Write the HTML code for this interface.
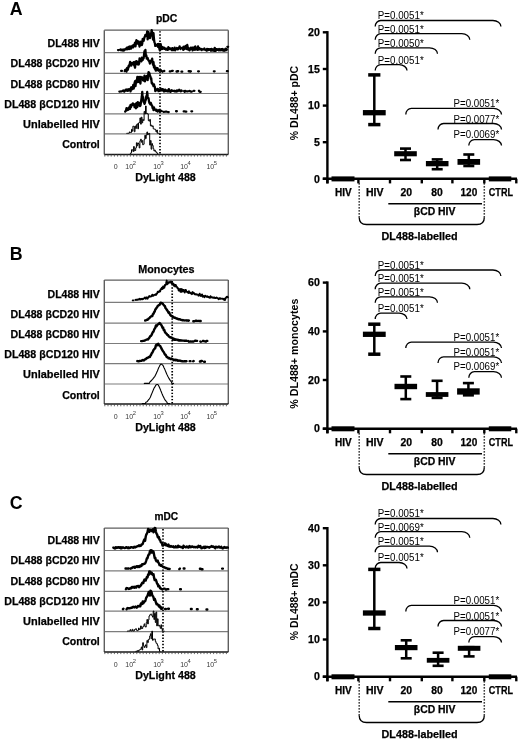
<!DOCTYPE html>
<html><head><meta charset="utf-8"><style>
html,body{margin:0;padding:0;background:#fff;}
svg{display:block;font-family:"Liberation Sans", sans-serif;filter:blur(0.35px);}
</style></head><body>
<svg width="520" height="741" viewBox="0 0 520 741">
<rect width="520" height="741" fill="#fff"/>
<text x="9.80" y="15.10" font-size="17.8" font-weight="bold" >A</text>
<text x="156.00" y="22.20" font-size="10.8" font-weight="bold" stroke="#000" stroke-width="0.25" textLength="21.40" lengthAdjust="spacingAndGlyphs" >pDC</text>
<text x="47.50" y="47.00" font-size="11.0" font-weight="bold" stroke="#000" stroke-width="0.25" textLength="52.30" lengthAdjust="spacingAndGlyphs" >DL488 HIV</text>
<text x="10.60" y="67.30" font-size="11.0" font-weight="bold" stroke="#000" stroke-width="0.25" textLength="89.20" lengthAdjust="spacingAndGlyphs" >DL488 βCD20 HIV</text>
<text x="10.50" y="88.20" font-size="11.0" font-weight="bold" stroke="#000" stroke-width="0.25" textLength="89.30" lengthAdjust="spacingAndGlyphs" >DL488 βCD80 HIV</text>
<text x="4.20" y="107.90" font-size="11.0" font-weight="bold" stroke="#000" stroke-width="0.25" textLength="95.60" lengthAdjust="spacingAndGlyphs" >DL488 βCD120 HIV</text>
<text x="23.10" y="128.20" font-size="11.0" font-weight="bold" stroke="#000" stroke-width="0.25" textLength="76.70" lengthAdjust="spacingAndGlyphs" >Unlabelled HIV</text>
<text x="62.20" y="148.00" font-size="11.0" font-weight="bold" stroke="#000" stroke-width="0.25" textLength="37.60" lengthAdjust="spacingAndGlyphs" >Control</text>
<line x1="104.30" y1="30.20" x2="228.30" y2="30.20" stroke="#5e5e5e" stroke-width="1.3" />
<line x1="104.30" y1="52.60" x2="228.30" y2="52.60" stroke="#7c7c7c" stroke-width="1.2" />
<line x1="104.30" y1="73.30" x2="228.30" y2="73.30" stroke="#7c7c7c" stroke-width="1.2" />
<line x1="104.30" y1="93.50" x2="228.30" y2="93.50" stroke="#7c7c7c" stroke-width="1.2" />
<line x1="104.30" y1="113.90" x2="228.30" y2="113.90" stroke="#7c7c7c" stroke-width="1.2" />
<line x1="104.30" y1="133.90" x2="228.30" y2="133.90" stroke="#7c7c7c" stroke-width="1.2" />
<line x1="104.30" y1="30.20" x2="104.30" y2="154.40" stroke="#5e5e5e" stroke-width="1.4" />
<line x1="228.30" y1="30.20" x2="228.30" y2="154.40" stroke="#5e5e5e" stroke-width="1.4" />
<line x1="104.30" y1="154.40" x2="228.30" y2="154.40" stroke="#1a1a1a" stroke-width="1.5" />
<path d="M118.00,50.06 L118.80,50.06M120.20,49.59 L120.65,49.49 L121.10,50.32M122.00,49.63 L122.45,49.60 L122.90,50.67 L123.35,50.13 L123.80,49.52 L124.25,50.24 L124.70,49.39 L125.15,49.11 L125.60,49.01 L126.05,49.40 L126.50,48.12 L126.95,47.64 L127.40,48.08 L127.85,49.20 L128.30,47.29 L128.75,48.56 L129.20,46.77 L129.65,48.98 L130.10,46.35 L130.55,47.25 L131.00,48.61 L131.45,47.11 L131.90,46.33 L132.35,45.75 L132.80,47.33 L133.25,47.28 L133.70,45.02 L134.15,45.73 L134.60,44.10 L135.05,42.69 L135.50,46.41 L135.95,42.54 L136.40,40.22 L136.85,42.59 L137.30,43.65 L137.75,41.06 L138.20,42.38 L138.65,41.61 L139.10,44.21 L139.55,46.52 L140.00,44.53 L140.45,44.53 L140.90,41.75 L141.35,42.19 L141.80,45.10 L142.25,43.73 L142.70,38.94 L143.15,38.71 L143.60,40.90 L144.05,38.88 L144.50,37.24 L144.95,36.53 L145.40,34.90 L145.85,35.74 L146.30,35.89 L146.75,35.58 L147.20,31.44 L147.65,39.42 L148.10,33.08 L148.55,32.12 L149.00,37.44 L149.45,34.31 L149.90,38.19 L150.35,34.13 L150.80,35.63 L151.25,32.66 L151.70,30.23 L152.15,32.26 L152.60,36.84 L153.05,39.63 L153.50,33.06 L153.95,38.76 L154.40,42.22 L154.85,42.98 L155.30,45.96 L155.75,45.14 L156.20,45.58 L156.65,44.89 L157.10,45.63 L157.55,44.11 L158.00,46.89 L158.45,44.70 L158.90,43.91 L159.35,48.66 L159.80,50.25 L160.25,46.42 L160.70,44.08 L161.15,48.71 L161.60,49.12 L162.05,46.96 L162.50,48.81 L162.95,48.52 L163.40,48.44 L163.85,47.54 L164.30,48.72 L164.75,48.08 L165.20,48.66 L165.65,49.42 L166.10,48.88 L166.55,49.59 L167.00,48.60 L167.45,49.83 L167.90,49.83 L168.35,47.20 L168.80,48.81 L169.25,48.85 L169.70,48.30 L170.15,49.29 L170.60,49.13 L171.05,48.51 L171.50,48.69 L171.95,50.15 L172.40,48.23 L172.85,49.65 L173.30,50.13 L173.75,50.01 L174.20,49.56 L174.65,47.69 L175.10,50.34 L175.55,49.00M176.45,49.01 L176.90,48.03 L177.35,49.09 L177.80,49.42 L178.25,48.46 L178.70,47.88 L179.15,47.83 L179.60,46.32 L180.05,48.16 L180.50,48.98 L180.95,48.38 L181.40,48.24 L181.85,47.96 L182.30,48.04 L182.75,47.73 L183.20,49.85 L183.65,46.78 L184.10,48.40 L184.55,49.07 L185.00,46.76 L185.45,46.06 L185.90,47.19 L186.35,47.71 L186.80,49.11 L187.25,44.84 L187.70,47.26 L188.15,49.63 L188.60,49.33 L189.05,48.51 L189.50,50.34 L189.95,48.67 L190.40,49.30 L190.85,47.55 L191.30,47.79M192.20,48.70 L192.65,50.40 L193.10,47.53 L193.55,48.50 L194.00,48.07 L194.45,49.76 L194.90,46.66 L195.35,46.43 L195.80,49.70 L196.25,48.14 L196.70,49.24 L197.15,48.52 L197.60,49.85 L198.05,46.42 L198.50,49.56 L198.95,48.89 L199.40,48.10 L199.85,49.37 L200.30,48.99 L200.75,49.38 L201.20,49.00 L201.65,50.09 L202.10,49.41 L202.55,49.24 L203.00,49.42 L203.45,49.10 L203.90,49.49 L204.35,48.56 L204.80,49.62 L205.25,49.48 L205.70,49.97 L206.15,49.85 L206.60,50.53 L207.05,48.92 L207.50,50.43 L207.95,50.08 L208.40,49.09 L208.85,49.06 L209.30,49.80M210.20,49.08 L210.65,49.23 L211.10,50.73 L211.55,48.80 L212.00,50.11 L212.45,50.49 L212.90,49.42 L213.35,49.67 L213.80,49.35 L214.25,50.94 L214.70,47.96 L215.15,50.08 L215.60,50.89 L216.05,49.01 L216.50,49.86 L216.95,49.27 L217.40,49.85 L217.85,49.60 L218.30,49.34 L218.75,50.20 L219.20,48.96 L219.65,49.96 L220.10,50.31 L220.55,49.48 L221.00,49.16 L221.45,49.75 L221.90,50.30 L222.35,49.01M223.25,50.45 L223.70,49.52 L224.15,50.74 L224.60,49.53 L225.05,49.60 L225.50,48.77 L225.95,50.35 L226.40,50.10 L226.85,49.26M227.35,46.84 L228.15,46.84" stroke="#000" stroke-width="2.3" fill="none" stroke-linejoin="round" stroke-linecap="round"/>
<path d="M121.15,70.93 L121.95,70.93M124.70,71.13 L125.15,70.01 L125.60,70.78 L126.05,69.51 L126.50,71.51 L126.95,68.29 L127.40,67.73 L127.85,69.83 L128.30,67.49 L128.75,65.57 L129.20,66.43 L129.65,64.59 L130.10,62.00 L130.55,64.68 L131.00,65.15 L131.45,65.56 L131.90,62.92 L132.35,63.92 L132.80,63.52 L133.25,63.30 L133.70,62.14 L134.15,65.14 L134.60,66.02 L135.05,67.61 L135.50,61.75 L135.95,63.72 L136.40,61.12 L136.85,63.35 L137.30,64.33 L137.75,61.98 L138.20,62.66 L138.65,64.48 L139.10,63.58 L139.55,58.50 L140.00,60.80 L140.45,60.17 L140.90,60.99 L141.35,61.32 L141.80,57.68 L142.25,59.19 L142.70,60.06 L143.15,58.01 L143.60,58.46 L144.05,54.72 L144.50,51.16 L144.95,54.67 L145.40,49.95 L145.85,56.11 L146.30,55.28 L146.75,58.59 L147.20,58.05 L147.65,57.96 L148.10,59.46 L148.55,60.49 L149.00,60.91 L149.45,61.66 L149.90,63.56 L150.35,61.52 L150.80,60.77 L151.25,60.35 L151.70,61.33 L152.15,58.74 L152.60,62.89 L153.05,64.69 L153.50,62.06 L153.95,67.33 L154.40,65.52 L154.85,68.87 L155.30,67.84 L155.75,70.65 L156.20,67.88 L156.65,69.25 L157.10,70.29 L157.55,68.16 L158.00,69.30 L158.45,70.00 L158.90,70.72 L159.35,70.24 L159.80,70.41 L160.25,69.82 L160.70,69.86 L161.15,71.02 L161.60,71.01 L162.05,71.07 L162.50,71.69M163.85,71.11 L164.30,70.95M169.75,71.47 L170.55,71.47M172.00,70.87 L172.80,70.87M176.50,71.50 L177.30,71.50M177.40,71.23 L178.20,71.23M181.45,71.64 L182.25,71.64M188.65,71.27 L189.45,71.27M190.40,71.54 L190.85,71.25M198.10,71.32 L198.90,71.32M213.85,71.31 L214.65,71.31M226.90,71.18 L227.70,71.18" stroke="#000" stroke-width="2.3" fill="none" stroke-linejoin="round" stroke-linecap="round"/>
<path d="M119.35,91.60 L120.15,91.60M121.15,91.37 L121.95,91.37M122.90,90.80 L123.35,90.48 L123.80,91.22 L124.25,91.63 L124.70,90.83 L125.15,90.85 L125.60,89.77 L126.05,90.19 L126.50,90.43 L126.95,89.54 L127.40,90.43 L127.85,90.89 L128.30,89.43 L128.75,89.26 L129.20,89.83 L129.65,90.23 L130.10,89.02 L130.55,91.45 L131.00,87.54 L131.45,87.28 L131.90,89.46 L132.35,86.86 L132.80,87.80 L133.25,84.94 L133.70,88.55 L134.15,86.35 L134.60,82.90 L135.05,81.17 L135.50,86.12 L135.95,82.28 L136.40,80.28 L136.85,81.71 L137.30,77.01 L137.75,82.14 L138.20,78.88 L138.65,81.80 L139.10,77.00 L139.55,79.95 L140.00,80.75 L140.45,83.51 L140.90,76.93 L141.35,78.59 L141.80,78.35 L142.25,77.34 L142.70,78.69 L143.15,80.48 L143.60,80.60 L144.05,80.39 L144.50,75.59 L144.95,81.31 L145.40,79.23 L145.85,78.39 L146.30,76.96 L146.75,75.93 L147.20,79.56 L147.65,80.11 L148.10,75.61 L148.55,72.16 L149.00,72.60 L149.45,73.29 L149.90,75.93 L150.35,76.16 L150.80,78.94 L151.25,78.43 L151.70,83.13 L152.15,82.89 L152.60,84.40 L153.05,84.51 L153.50,86.12 L153.95,84.36 L154.40,86.32 L154.85,86.89 L155.30,91.13 L155.75,89.81 L156.20,90.33 L156.65,89.34M157.55,88.88 L158.00,89.04 L158.45,91.15 L158.90,90.91 L159.35,90.80 L159.80,90.14 L160.25,89.69 L160.70,88.59 L161.15,90.48 L161.60,89.76 L162.05,90.30 L162.50,89.10 L162.95,89.95 L163.40,89.53 L163.85,91.43 L164.30,90.81 L164.75,91.32 L165.20,89.67 L165.65,90.29 L166.10,90.99 L166.55,91.10 L167.00,90.43 L167.45,91.29 L167.90,91.46 L168.35,90.46 L168.80,89.06 L169.25,90.99 L169.70,91.21 L170.15,91.65 L170.60,91.77 L171.05,90.47 L171.50,90.25 L171.95,90.85 L172.40,90.63 L172.85,90.79 L173.30,90.78M174.20,91.20 L174.65,90.82 L175.10,91.44 L175.55,91.24 L176.00,91.48 L176.45,91.15 L176.90,90.35 L177.35,91.21 L177.80,91.05 L178.25,90.40 L178.70,90.52 L179.15,89.82M180.05,90.40 L180.50,91.31 L180.95,90.90 L181.40,90.44 L181.85,90.95M184.10,91.04 L184.55,91.75M185.45,90.86 L185.90,91.34M187.30,91.30 L188.10,91.30M189.50,90.85 L189.95,91.30M190.90,91.66 L191.70,91.66M193.60,90.85 L194.40,90.85M198.95,90.79 L199.40,91.52M199.90,91.84 L200.70,91.84" stroke="#000" stroke-width="2.3" fill="none" stroke-linejoin="round" stroke-linecap="round"/>
<path d="M125.15,111.62 L125.60,111.02 L126.05,110.57 L126.50,108.18 L126.95,110.22 L127.40,109.65 L127.85,108.47 L128.30,109.71 L128.75,108.69 L129.20,107.87 L129.65,106.53 L130.10,108.93 L130.55,104.92 L131.00,106.95 L131.45,105.84 L131.90,104.46 L132.35,104.36 L132.80,103.35 L133.25,104.71 L133.70,105.25 L134.15,104.98 L134.60,107.20 L135.05,104.15 L135.50,107.31 L135.95,108.21 L136.40,103.13 L136.85,105.95 L137.30,107.18 L137.75,102.10 L138.20,105.16 L138.65,102.52 L139.10,105.29 L139.55,103.95 L140.00,106.10 L140.45,105.51 L140.90,102.71 L141.35,99.80 L141.80,96.77 L142.25,91.93 L142.70,99.69 L143.15,97.02 L143.60,102.01 L144.05,102.49 L144.50,103.85 L144.95,102.76 L145.40,100.18 L145.85,99.94 L146.30,96.07 L146.75,96.51 L147.20,92.00 L147.65,96.47 L148.10,98.31 L148.55,98.26 L149.00,101.41 L149.45,102.98 L149.90,103.63 L150.35,104.24 L150.80,102.87 L151.25,104.04 L151.70,105.43 L152.15,105.58 L152.60,108.12 L153.05,107.47 L153.50,110.12 L153.95,107.33 L154.40,109.12 L154.85,109.41 L155.30,109.40 L155.75,110.35 L156.20,110.81 L156.65,109.73 L157.10,110.71 L157.55,111.61 L158.00,110.67M158.90,110.03 L159.35,111.42M160.75,111.02 L161.55,111.02M163.45,111.82 L164.25,111.82M165.70,111.65 L166.50,111.65M167.95,112.06 L168.75,112.06M176.05,111.23 L176.85,111.23M183.70,111.38 L184.50,111.38M185.50,111.64 L186.30,111.64M191.35,111.35 L192.15,111.35" stroke="#000" stroke-width="2.3" fill="none" stroke-linejoin="round" stroke-linecap="round"/>
<path d="M126.60,133.60 V133.30 H127.30 V133.30 H128.00 V133.30 H128.70 V133.05 H129.40 V131.91 H130.10 V132.48 H130.80 V132.47 H131.50 V129.32 H132.20 V131.19 H132.90 V126.16 H133.60 V126.39 H134.30 V131.76 H135.00 V126.06 H135.70 V128.53 H136.40 V124.79 H137.10 V123.85 H137.80 V128.83 H138.50 V123.03 H139.20 V122.45 H139.90 V117.94 H140.60 V124.18 H141.30 V117.20 H142.00 V122.76 H142.70 V119.42 H143.40 V120.54 H144.10 V111.46 H144.80 V113.91 H145.50 V105.98 H146.20 V113.50 H146.90 V113.40 H147.60 V114.09 H148.30 V120.63 H149.00 V121.12 H149.70 V119.40 H150.40 V125.83 H151.10 V125.14 H151.80 V126.51 H152.50 V125.88 H153.20 V128.79 H153.90 V129.09 H154.60 V129.13 H155.30 V130.05 H156.00 V132.01 H156.70 V130.03 H157.40 V133.27 H158.10 V133.30 H158.80 V133.30 H159.50 V133.30 H160.20 V133.60" stroke="#000" stroke-width="1.0" fill="none" stroke-linejoin="round"/>
<path d="M130.10,154.10 V153.80 H130.80 V152.78 H131.50 V149.70 H132.20 V149.77 H132.90 V151.50 H133.60 V146.52 H134.30 V150.82 H135.00 V150.50 H135.70 V147.80 H136.40 V142.78 H137.10 V145.81 H137.80 V142.95 H138.50 V144.02 H139.20 V147.95 H139.90 V140.84 H140.60 V139.21 H141.30 V142.22 H142.00 V140.62 H142.70 V144.78 H143.40 V144.22 H144.10 V139.60 H144.80 V135.22 H145.50 V138.55 H146.20 V135.13 H146.90 V131.96 H147.60 V134.75 H148.30 V133.71 H149.00 V133.38 H149.70 V145.11 H150.40 V140.54 H151.10 V149.20 H151.80 V143.64 H152.50 V145.54 H153.20 V148.63 H153.90 V150.93 H154.60 V150.15 H155.30 V151.79 H156.00 V151.93 H156.70 V152.94 H157.40 V153.80 H158.10 V154.10" stroke="#000" stroke-width="1.0" fill="none" stroke-linejoin="round"/>
<line x1="160.00" y1="31.20" x2="160.00" y2="154.40" stroke="#000" stroke-width="1.7" stroke-dasharray="1.4 1.7"/>
<line x1="104.80" y1="154.40" x2="104.80" y2="156.60" stroke="#444" stroke-width="0.8" />
<line x1="108.00" y1="154.40" x2="108.00" y2="156.60" stroke="#444" stroke-width="0.8" />
<line x1="111.20" y1="154.40" x2="111.20" y2="156.60" stroke="#444" stroke-width="0.8" />
<line x1="114.40" y1="154.40" x2="114.40" y2="156.60" stroke="#444" stroke-width="0.8" />
<line x1="117.60" y1="154.40" x2="117.60" y2="156.60" stroke="#444" stroke-width="0.8" />
<line x1="120.80" y1="154.40" x2="120.80" y2="156.60" stroke="#444" stroke-width="0.8" />
<line x1="124.00" y1="154.40" x2="124.00" y2="156.60" stroke="#444" stroke-width="0.8" />
<line x1="127.20" y1="154.40" x2="127.20" y2="156.60" stroke="#444" stroke-width="0.8" />
<line x1="130.40" y1="154.40" x2="130.40" y2="156.60" stroke="#444" stroke-width="0.8" />
<line x1="133.60" y1="154.40" x2="133.60" y2="156.60" stroke="#444" stroke-width="0.8" />
<line x1="136.80" y1="154.40" x2="136.80" y2="156.60" stroke="#444" stroke-width="0.8" />
<line x1="140.00" y1="154.40" x2="140.00" y2="156.60" stroke="#444" stroke-width="0.8" />
<line x1="143.20" y1="154.40" x2="143.20" y2="156.60" stroke="#444" stroke-width="0.8" />
<line x1="146.40" y1="154.40" x2="146.40" y2="156.60" stroke="#444" stroke-width="0.8" />
<line x1="149.60" y1="154.40" x2="149.60" y2="156.60" stroke="#444" stroke-width="0.8" />
<line x1="152.80" y1="154.40" x2="152.80" y2="156.60" stroke="#444" stroke-width="0.8" />
<line x1="156.00" y1="154.40" x2="156.00" y2="156.60" stroke="#444" stroke-width="0.8" />
<line x1="159.20" y1="154.40" x2="159.20" y2="156.60" stroke="#444" stroke-width="0.8" />
<line x1="162.40" y1="154.40" x2="162.40" y2="156.60" stroke="#444" stroke-width="0.8" />
<line x1="165.60" y1="154.40" x2="165.60" y2="156.60" stroke="#444" stroke-width="0.8" />
<line x1="168.80" y1="154.40" x2="168.80" y2="156.60" stroke="#444" stroke-width="0.8" />
<line x1="172.00" y1="154.40" x2="172.00" y2="156.60" stroke="#444" stroke-width="0.8" />
<line x1="175.20" y1="154.40" x2="175.20" y2="156.60" stroke="#444" stroke-width="0.8" />
<line x1="178.40" y1="154.40" x2="178.40" y2="156.60" stroke="#444" stroke-width="0.8" />
<line x1="181.60" y1="154.40" x2="181.60" y2="156.60" stroke="#444" stroke-width="0.8" />
<line x1="184.80" y1="154.40" x2="184.80" y2="156.60" stroke="#444" stroke-width="0.8" />
<line x1="188.00" y1="154.40" x2="188.00" y2="156.60" stroke="#444" stroke-width="0.8" />
<line x1="191.20" y1="154.40" x2="191.20" y2="156.60" stroke="#444" stroke-width="0.8" />
<line x1="194.40" y1="154.40" x2="194.40" y2="156.60" stroke="#444" stroke-width="0.8" />
<line x1="197.60" y1="154.40" x2="197.60" y2="156.60" stroke="#444" stroke-width="0.8" />
<line x1="200.80" y1="154.40" x2="200.80" y2="156.60" stroke="#444" stroke-width="0.8" />
<line x1="204.00" y1="154.40" x2="204.00" y2="156.60" stroke="#444" stroke-width="0.8" />
<line x1="207.20" y1="154.40" x2="207.20" y2="156.60" stroke="#444" stroke-width="0.8" />
<line x1="210.40" y1="154.40" x2="210.40" y2="156.60" stroke="#444" stroke-width="0.8" />
<line x1="213.60" y1="154.40" x2="213.60" y2="156.60" stroke="#444" stroke-width="0.8" />
<line x1="216.80" y1="154.40" x2="216.80" y2="156.60" stroke="#444" stroke-width="0.8" />
<line x1="220.00" y1="154.40" x2="220.00" y2="156.60" stroke="#444" stroke-width="0.8" />
<line x1="223.20" y1="154.40" x2="223.20" y2="156.60" stroke="#444" stroke-width="0.8" />
<line x1="226.40" y1="154.40" x2="226.40" y2="156.60" stroke="#444" stroke-width="0.8" />
<text x="113.80" y="169.40" font-size="7.0" fill="#3a3a3a" >0</text>
<text x="125.30" y="169.40" font-size="7.0" fill="#3a3a3a" >10</text>
<text x="132.70" y="165.20" font-size="5.8" fill="#3a3a3a" >2</text>
<text x="153.20" y="169.40" font-size="7.0" fill="#3a3a3a" >10</text>
<text x="160.60" y="165.20" font-size="5.8" fill="#3a3a3a" >3</text>
<text x="180.20" y="169.40" font-size="7.0" fill="#3a3a3a" >10</text>
<text x="187.60" y="165.20" font-size="5.8" fill="#3a3a3a" >4</text>
<text x="206.40" y="169.40" font-size="7.0" fill="#3a3a3a" >10</text>
<text x="213.80" y="165.20" font-size="5.8" fill="#3a3a3a" >5</text>
<text x="135.20" y="181.00" font-size="10.9" font-weight="bold" stroke="#000" stroke-width="0.25" textLength="60.60" lengthAdjust="spacingAndGlyphs" >DyLight 488</text>
<text x="9.80" y="260.30" font-size="17.8" font-weight="bold" >B</text>
<text x="138.30" y="272.50" font-size="10.8" font-weight="bold" stroke="#000" stroke-width="0.25" textLength="56.30" lengthAdjust="spacingAndGlyphs" >Monocytes</text>
<text x="47.50" y="297.50" font-size="11.0" font-weight="bold" stroke="#000" stroke-width="0.25" textLength="52.30" lengthAdjust="spacingAndGlyphs" >DL488 HIV</text>
<text x="10.60" y="317.70" font-size="11.0" font-weight="bold" stroke="#000" stroke-width="0.25" textLength="89.20" lengthAdjust="spacingAndGlyphs" >DL488 βCD20 HIV</text>
<text x="10.50" y="337.90" font-size="11.0" font-weight="bold" stroke="#000" stroke-width="0.25" textLength="89.30" lengthAdjust="spacingAndGlyphs" >DL488 βCD80 HIV</text>
<text x="4.20" y="358.10" font-size="11.0" font-weight="bold" stroke="#000" stroke-width="0.25" textLength="95.60" lengthAdjust="spacingAndGlyphs" >DL488 βCD120 HIV</text>
<text x="23.10" y="378.30" font-size="11.0" font-weight="bold" stroke="#000" stroke-width="0.25" textLength="76.70" lengthAdjust="spacingAndGlyphs" >Unlabelled HIV</text>
<text x="62.20" y="398.50" font-size="11.0" font-weight="bold" stroke="#000" stroke-width="0.25" textLength="37.60" lengthAdjust="spacingAndGlyphs" >Control</text>
<line x1="104.30" y1="280.10" x2="228.30" y2="280.10" stroke="#5e5e5e" stroke-width="1.3" />
<line x1="104.30" y1="302.40" x2="228.30" y2="302.40" stroke="#7c7c7c" stroke-width="1.2" />
<line x1="104.30" y1="323.20" x2="228.30" y2="323.20" stroke="#7c7c7c" stroke-width="1.2" />
<line x1="104.30" y1="343.50" x2="228.30" y2="343.50" stroke="#7c7c7c" stroke-width="1.2" />
<line x1="104.30" y1="363.70" x2="228.30" y2="363.70" stroke="#7c7c7c" stroke-width="1.2" />
<line x1="104.30" y1="384.00" x2="228.30" y2="384.00" stroke="#7c7c7c" stroke-width="1.2" />
<line x1="104.30" y1="280.10" x2="104.30" y2="404.10" stroke="#5e5e5e" stroke-width="1.4" />
<line x1="228.30" y1="280.10" x2="228.30" y2="404.10" stroke="#5e5e5e" stroke-width="1.4" />
<line x1="104.30" y1="404.10" x2="228.30" y2="404.10" stroke="#1a1a1a" stroke-width="1.5" />
<path d="M132.70,300.41 L133.50,300.41M135.50,299.82 L136.10,300.01 L136.70,299.71 L137.30,299.90 L137.90,299.44 L138.50,299.64 L139.10,299.22 L139.70,298.78 L140.30,299.58 L140.90,299.03 L141.50,299.20 L142.10,298.76 L142.70,299.27 L143.30,298.82 L143.90,298.48 L144.50,297.74 L145.10,297.44 L145.70,298.68 L146.30,298.24 L146.90,297.24 L147.50,298.67 L148.10,297.60 L148.70,297.15 L149.30,296.06 L149.90,296.19 L150.50,296.65 L151.10,296.46 L151.70,296.16 L152.30,294.67 L152.90,295.85 L153.50,295.55 L154.10,294.83 L154.70,294.91 L155.30,294.57 L155.90,294.92 L156.50,293.61 L157.10,293.58 L157.70,291.77 L158.30,291.80 L158.90,292.01 L159.50,290.96 L160.10,291.42 L160.70,289.10 L161.30,289.24 L161.90,287.67 L162.50,288.96 L163.10,286.36 L163.70,287.99 L164.30,287.70 L164.90,284.85 L165.50,285.21 L166.10,283.56 L166.70,280.58 L167.30,284.19 L167.90,283.61 L168.50,282.38 L169.10,281.89 L169.70,282.64 L170.30,282.67 L170.90,281.59 L171.50,281.93 L172.10,284.06 L172.70,283.25 L173.30,283.71 L173.90,285.66 L174.50,284.63 L175.10,286.56 L175.70,284.88 L176.30,286.29 L176.90,286.91 L177.50,288.16 L178.10,288.12 L178.70,290.65 L179.30,290.18 L179.90,289.09 L180.50,291.90 L181.10,289.03 L181.70,291.86 L182.30,289.52 L182.90,291.31 L183.50,289.89 L184.10,290.72 L184.70,292.53 L185.30,290.02 L185.90,290.03 L186.50,291.63 L187.10,291.98 L187.70,292.04 L188.30,292.95 L188.90,291.21 L189.50,292.86 L190.10,292.58 L190.70,293.40 L191.30,293.41 L191.90,294.13 L192.50,292.09 L193.10,293.47 L193.70,292.68 L194.30,293.65 L194.90,294.40 L195.50,294.23 L196.10,294.56 L196.70,294.23 L197.30,294.68 L197.90,294.75 L198.50,295.74 L199.10,295.42 L199.70,293.66 L200.30,295.58 L200.90,296.00 L201.50,295.09 L202.10,294.45 L202.70,296.68 L203.30,295.91 L203.90,296.35 L204.50,297.27 L205.10,295.66 L205.70,296.29 L206.30,296.32 L206.90,296.98 L207.50,296.27 L208.10,297.03 L208.70,296.87 L209.30,297.60 L209.90,297.76 L210.50,296.24 L211.10,297.50 L211.70,297.11 L212.30,297.41 L212.90,297.76 L213.50,297.90 L214.10,297.33 L214.70,297.97 L215.30,297.99 L215.90,297.99 L216.50,297.45 L217.10,297.84 L217.70,298.10 L218.30,298.71 L218.90,299.23 L219.50,298.13 L220.10,298.23 L220.70,298.89 L221.30,298.66 L221.90,298.65 L222.50,298.74 L223.10,298.81 L223.70,299.53 L224.30,298.78 L224.90,300.06 L225.50,298.39 L226.10,297.66 L226.70,296.93 L227.30,296.71 L227.90,297.31" stroke="#000" stroke-width="1.9000000000000001" fill="none" stroke-linejoin="round" stroke-linecap="round"/>
<path d="M145.10,320.45 L145.70,320.33 L146.30,320.12 L146.90,319.65 L147.50,319.73 L148.10,319.25 L148.70,318.35 L149.30,318.29 L149.90,317.56 L150.50,316.73 L151.10,316.46 L151.70,316.26 L152.30,316.16 L152.90,314.23 L153.50,313.75 L154.10,312.24 L154.70,311.69 L155.30,309.55 L155.90,308.88 L156.50,307.88 L157.10,307.21 L157.70,305.94 L158.30,305.68 L158.90,304.87 L159.50,304.91 L160.10,303.67 L160.70,302.65 L161.30,303.31 L161.90,303.11 L162.50,303.31 L163.10,304.31 L163.70,304.96 L164.30,305.72 L164.90,306.00 L165.50,308.17 L166.10,308.63 L166.70,309.71 L167.30,310.50 L167.90,311.45 L168.50,312.63 L169.10,312.27 L169.70,313.73 L170.30,315.02 L170.90,315.65 L171.50,315.98 L172.10,316.15 L172.70,317.02 L173.30,316.77 L173.90,317.64 L174.50,317.80 L175.10,317.71 L175.70,317.84 L176.30,318.50 L176.90,318.72 L177.50,318.55 L178.10,319.22 L178.70,319.11 L179.30,319.29 L179.90,319.31 L180.50,319.62 L181.10,319.89 L181.70,319.91 L182.30,320.31 L182.90,320.05 L183.50,320.34 L184.10,320.43 L184.70,320.39 L185.30,320.38 L185.90,320.33 L186.50,320.53 L187.10,320.44 L187.70,320.46 L188.30,320.81 L188.90,320.47M193.30,321.22 L194.10,321.22M195.70,320.72 L196.50,320.72M198.10,320.84 L198.90,320.84M199.90,321.06 L200.70,321.06" stroke="#000" stroke-width="2.4" fill="none" stroke-linejoin="round" stroke-linecap="round"/>
<path d="M141.10,341.12 L141.90,341.12M142.70,340.92 L143.30,340.85 L143.90,340.74 L144.50,340.60 L145.10,340.28 L145.70,340.02 L146.30,339.69 L146.90,339.59 L147.50,339.28 L148.10,339.42 L148.70,338.51 L149.30,337.84 L149.90,336.78 L150.50,335.94 L151.10,335.79 L151.70,334.63 L152.30,333.34 L152.90,332.05 L153.50,331.65 L154.10,329.76 L154.70,328.65 L155.30,327.80 L155.90,325.46 L156.50,326.32 L157.10,325.40 L157.70,324.53 L158.30,324.12 L158.90,323.83 L159.50,322.89 L160.10,323.49 L160.70,324.39 L161.30,324.98 L161.90,326.12 L162.50,327.74 L163.10,327.42 L163.70,330.01 L164.30,329.89 L164.90,332.05 L165.50,332.68 L166.10,333.50 L166.70,333.78 L167.30,334.96 L167.90,334.88 L168.50,335.98 L169.10,336.70 L169.70,337.21 L170.30,337.27 L170.90,337.65 L171.50,337.47 L172.10,338.02 L172.70,338.91 L173.30,338.51 L173.90,339.66 L174.50,338.98 L175.10,339.81 L175.70,339.54 L176.30,339.50 L176.90,339.78 L177.50,340.11 L178.10,339.79 L178.70,340.46 L179.30,340.51 L179.90,340.15 L180.50,340.58 L181.10,340.45 L181.70,340.41 L182.30,340.60 L182.90,340.59 L183.50,340.66 L184.10,340.70 L184.70,340.60 L185.30,340.69 L185.90,340.82 L186.50,340.79M188.30,341.04 L188.90,341.70M190.30,341.44 L191.10,341.44M192.70,341.48 L193.50,341.48M195.10,340.74 L195.90,340.74M196.30,340.83 L197.10,340.83M200.30,341.46 L200.90,341.76M202.90,340.93 L203.70,340.93M205.30,341.56 L206.10,341.56M206.50,340.91 L207.30,340.91" stroke="#000" stroke-width="2.4" fill="none" stroke-linejoin="round" stroke-linecap="round"/>
<path d="M137.30,361.03 L137.90,361.24M139.10,361.17 L139.70,360.90 L140.30,360.93 L140.90,360.86 L141.50,360.73 L142.10,360.39 L142.70,360.06 L143.30,360.41 L143.90,360.43 L144.50,359.68 L145.10,359.36 L145.70,359.17 L146.30,358.38 L146.90,357.96 L147.50,358.04 L148.10,357.62 L148.70,356.96 L149.30,356.96 L149.90,356.98 L150.50,355.55 L151.10,354.86 L151.70,353.28 L152.30,352.62 L152.90,351.42 L153.50,350.00 L154.10,349.31 L154.70,348.62 L155.30,347.88 L155.90,345.28 L156.50,344.66 L157.10,345.33 L157.70,344.09 L158.30,343.75 L158.90,345.23 L159.50,345.57 L160.10,345.82 L160.70,346.96 L161.30,348.07 L161.90,349.46 L162.50,350.45 L163.10,351.41 L163.70,351.99 L164.30,353.26 L164.90,354.50 L165.50,354.71 L166.10,355.72 L166.70,356.99 L167.30,357.15 L167.90,357.46 L168.50,358.26 L169.10,357.98 L169.70,358.56 L170.30,358.66 L170.90,359.21 L171.50,358.49 L172.10,359.14 L172.70,359.20 L173.30,359.78 L173.90,360.23 L174.50,359.68 L175.10,360.22 L175.70,359.75 L176.30,360.26 L176.90,359.93 L177.50,360.54 L178.10,360.85 L178.70,360.40 L179.30,360.64 L179.90,360.71 L180.50,360.59 L181.10,361.05 L181.70,361.20 L182.30,361.23 L182.90,361.35 L183.50,361.39 L184.10,361.31 L184.70,361.28 L185.30,361.21 L185.90,361.37 L186.50,361.14M189.70,361.13 L190.50,361.13M193.10,361.28 L193.70,360.96M199.90,361.48 L200.70,361.48M201.10,360.99 L201.90,360.99M204.10,361.68 L204.90,361.68" stroke="#000" stroke-width="2.4" fill="none" stroke-linejoin="round" stroke-linecap="round"/>
<path d="M143.90,383.70 L144.40,383.35 L144.90,383.35 L145.40,383.35 L145.90,383.35 L146.40,383.35 L146.90,383.35 L147.40,383.35 L147.90,383.35 L148.40,383.35 L148.90,383.35 L149.40,383.35 L149.90,381.85 L150.40,381.52 L150.90,381.01 L151.40,380.50 L151.90,379.99 L152.40,379.43 L152.90,378.84 L153.40,378.16 L153.90,377.54 L154.40,376.92 L154.90,376.32 L155.40,375.27 L155.90,374.20 L156.40,373.15 L156.90,372.08 L157.40,370.98 L157.90,369.73 L158.40,368.40 L158.90,367.31 L159.40,366.46 L159.90,365.34 L160.40,364.63 L160.90,364.14 L161.40,364.28 L161.90,364.38 L162.40,364.96 L162.90,365.32 L163.40,366.20 L163.90,367.55 L164.40,368.61 L164.90,369.59 L165.40,370.87 L165.90,372.03 L166.40,373.23 L166.90,374.40 L167.40,375.37 L167.90,376.40 L168.40,377.33 L168.90,378.37 L169.40,379.12 L169.90,379.94 L170.40,380.63 L170.90,381.28 L171.40,381.84 L171.90,383.35 L172.40,383.35 L172.90,383.35 L173.40,383.35 L173.90,383.70" stroke="#000" stroke-width="1.1" fill="none" stroke-linejoin="round"/>
<path d="M141.90,403.80 L142.40,403.45 L142.90,403.45 L143.40,403.45 L143.90,403.45 L144.40,403.45 L144.90,403.45 L145.40,403.45 L145.90,402.15 L146.40,401.96 L146.90,401.77 L147.40,401.30 L147.90,400.64 L148.40,399.96 L148.90,399.32 L149.40,398.78 L149.90,398.02 L150.40,397.01 L150.90,395.80 L151.40,394.57 L151.90,393.34 L152.40,392.27 L152.90,390.87 L153.40,389.71 L153.90,388.55 L154.40,387.61 L154.90,386.94 L155.40,385.99 L155.90,385.10 L156.40,384.81 L156.90,384.53 L157.40,384.54 L157.90,384.63 L158.40,385.24 L158.90,386.18 L159.40,387.33 L159.90,388.47 L160.40,389.56 L160.90,390.93 L161.40,392.08 L161.90,393.41 L162.40,394.43 L162.90,395.67 L163.40,396.66 L163.90,397.71 L164.40,398.73 L164.90,399.62 L165.40,400.30 L165.90,400.96 L166.40,401.57 L166.90,402.12 L167.40,403.45 L167.90,403.45 L168.40,403.45 L168.90,403.45 L169.40,403.45 L169.90,403.80" stroke="#000" stroke-width="1.1" fill="none" stroke-linejoin="round"/>
<line x1="172.20" y1="281.10" x2="172.20" y2="404.10" stroke="#000" stroke-width="1.7" stroke-dasharray="1.4 1.7"/>
<line x1="104.80" y1="404.10" x2="104.80" y2="406.30" stroke="#444" stroke-width="0.8" />
<line x1="108.00" y1="404.10" x2="108.00" y2="406.30" stroke="#444" stroke-width="0.8" />
<line x1="111.20" y1="404.10" x2="111.20" y2="406.30" stroke="#444" stroke-width="0.8" />
<line x1="114.40" y1="404.10" x2="114.40" y2="406.30" stroke="#444" stroke-width="0.8" />
<line x1="117.60" y1="404.10" x2="117.60" y2="406.30" stroke="#444" stroke-width="0.8" />
<line x1="120.80" y1="404.10" x2="120.80" y2="406.30" stroke="#444" stroke-width="0.8" />
<line x1="124.00" y1="404.10" x2="124.00" y2="406.30" stroke="#444" stroke-width="0.8" />
<line x1="127.20" y1="404.10" x2="127.20" y2="406.30" stroke="#444" stroke-width="0.8" />
<line x1="130.40" y1="404.10" x2="130.40" y2="406.30" stroke="#444" stroke-width="0.8" />
<line x1="133.60" y1="404.10" x2="133.60" y2="406.30" stroke="#444" stroke-width="0.8" />
<line x1="136.80" y1="404.10" x2="136.80" y2="406.30" stroke="#444" stroke-width="0.8" />
<line x1="140.00" y1="404.10" x2="140.00" y2="406.30" stroke="#444" stroke-width="0.8" />
<line x1="143.20" y1="404.10" x2="143.20" y2="406.30" stroke="#444" stroke-width="0.8" />
<line x1="146.40" y1="404.10" x2="146.40" y2="406.30" stroke="#444" stroke-width="0.8" />
<line x1="149.60" y1="404.10" x2="149.60" y2="406.30" stroke="#444" stroke-width="0.8" />
<line x1="152.80" y1="404.10" x2="152.80" y2="406.30" stroke="#444" stroke-width="0.8" />
<line x1="156.00" y1="404.10" x2="156.00" y2="406.30" stroke="#444" stroke-width="0.8" />
<line x1="159.20" y1="404.10" x2="159.20" y2="406.30" stroke="#444" stroke-width="0.8" />
<line x1="162.40" y1="404.10" x2="162.40" y2="406.30" stroke="#444" stroke-width="0.8" />
<line x1="165.60" y1="404.10" x2="165.60" y2="406.30" stroke="#444" stroke-width="0.8" />
<line x1="168.80" y1="404.10" x2="168.80" y2="406.30" stroke="#444" stroke-width="0.8" />
<line x1="172.00" y1="404.10" x2="172.00" y2="406.30" stroke="#444" stroke-width="0.8" />
<line x1="175.20" y1="404.10" x2="175.20" y2="406.30" stroke="#444" stroke-width="0.8" />
<line x1="178.40" y1="404.10" x2="178.40" y2="406.30" stroke="#444" stroke-width="0.8" />
<line x1="181.60" y1="404.10" x2="181.60" y2="406.30" stroke="#444" stroke-width="0.8" />
<line x1="184.80" y1="404.10" x2="184.80" y2="406.30" stroke="#444" stroke-width="0.8" />
<line x1="188.00" y1="404.10" x2="188.00" y2="406.30" stroke="#444" stroke-width="0.8" />
<line x1="191.20" y1="404.10" x2="191.20" y2="406.30" stroke="#444" stroke-width="0.8" />
<line x1="194.40" y1="404.10" x2="194.40" y2="406.30" stroke="#444" stroke-width="0.8" />
<line x1="197.60" y1="404.10" x2="197.60" y2="406.30" stroke="#444" stroke-width="0.8" />
<line x1="200.80" y1="404.10" x2="200.80" y2="406.30" stroke="#444" stroke-width="0.8" />
<line x1="204.00" y1="404.10" x2="204.00" y2="406.30" stroke="#444" stroke-width="0.8" />
<line x1="207.20" y1="404.10" x2="207.20" y2="406.30" stroke="#444" stroke-width="0.8" />
<line x1="210.40" y1="404.10" x2="210.40" y2="406.30" stroke="#444" stroke-width="0.8" />
<line x1="213.60" y1="404.10" x2="213.60" y2="406.30" stroke="#444" stroke-width="0.8" />
<line x1="216.80" y1="404.10" x2="216.80" y2="406.30" stroke="#444" stroke-width="0.8" />
<line x1="220.00" y1="404.10" x2="220.00" y2="406.30" stroke="#444" stroke-width="0.8" />
<line x1="223.20" y1="404.10" x2="223.20" y2="406.30" stroke="#444" stroke-width="0.8" />
<line x1="226.40" y1="404.10" x2="226.40" y2="406.30" stroke="#444" stroke-width="0.8" />
<text x="113.80" y="419.10" font-size="7.0" fill="#3a3a3a" >0</text>
<text x="125.30" y="419.10" font-size="7.0" fill="#3a3a3a" >10</text>
<text x="132.70" y="414.90" font-size="5.8" fill="#3a3a3a" >2</text>
<text x="153.20" y="419.10" font-size="7.0" fill="#3a3a3a" >10</text>
<text x="160.60" y="414.90" font-size="5.8" fill="#3a3a3a" >3</text>
<text x="180.20" y="419.10" font-size="7.0" fill="#3a3a3a" >10</text>
<text x="187.60" y="414.90" font-size="5.8" fill="#3a3a3a" >4</text>
<text x="206.40" y="419.10" font-size="7.0" fill="#3a3a3a" >10</text>
<text x="213.80" y="414.90" font-size="5.8" fill="#3a3a3a" >5</text>
<text x="135.20" y="430.70" font-size="10.9" font-weight="bold" stroke="#000" stroke-width="0.25" textLength="60.60" lengthAdjust="spacingAndGlyphs" >DyLight 488</text>
<text x="9.80" y="509.20" font-size="17.8" font-weight="bold" >C</text>
<text x="154.50" y="519.90" font-size="10.8" font-weight="bold" stroke="#000" stroke-width="0.25" textLength="23.70" lengthAdjust="spacingAndGlyphs" >mDC</text>
<text x="47.50" y="543.80" font-size="11.0" font-weight="bold" stroke="#000" stroke-width="0.25" textLength="52.30" lengthAdjust="spacingAndGlyphs" >DL488 HIV</text>
<text x="10.60" y="564.00" font-size="11.0" font-weight="bold" stroke="#000" stroke-width="0.25" textLength="89.20" lengthAdjust="spacingAndGlyphs" >DL488 βCD20 HIV</text>
<text x="10.50" y="584.60" font-size="11.0" font-weight="bold" stroke="#000" stroke-width="0.25" textLength="89.30" lengthAdjust="spacingAndGlyphs" >DL488 βCD80 HIV</text>
<text x="4.20" y="604.80" font-size="11.0" font-weight="bold" stroke="#000" stroke-width="0.25" textLength="95.60" lengthAdjust="spacingAndGlyphs" >DL488 βCD120 HIV</text>
<text x="23.10" y="625.00" font-size="11.0" font-weight="bold" stroke="#000" stroke-width="0.25" textLength="76.70" lengthAdjust="spacingAndGlyphs" >Unlabelled HIV</text>
<text x="62.20" y="644.80" font-size="11.0" font-weight="bold" stroke="#000" stroke-width="0.25" textLength="37.60" lengthAdjust="spacingAndGlyphs" >Control</text>
<line x1="104.30" y1="528.10" x2="228.30" y2="528.10" stroke="#5e5e5e" stroke-width="1.3" />
<line x1="104.30" y1="550.50" x2="228.30" y2="550.50" stroke="#7c7c7c" stroke-width="1.2" />
<line x1="104.30" y1="570.90" x2="228.30" y2="570.90" stroke="#7c7c7c" stroke-width="1.2" />
<line x1="104.30" y1="591.30" x2="228.30" y2="591.30" stroke="#7c7c7c" stroke-width="1.2" />
<line x1="104.30" y1="611.20" x2="228.30" y2="611.20" stroke="#7c7c7c" stroke-width="1.2" />
<line x1="104.30" y1="631.60" x2="228.30" y2="631.60" stroke="#7c7c7c" stroke-width="1.2" />
<line x1="104.30" y1="528.10" x2="104.30" y2="651.90" stroke="#5e5e5e" stroke-width="1.4" />
<line x1="228.30" y1="528.10" x2="228.30" y2="651.90" stroke="#5e5e5e" stroke-width="1.4" />
<line x1="104.30" y1="651.90" x2="228.30" y2="651.90" stroke="#1a1a1a" stroke-width="1.5" />
<path d="M113.30,547.64 L113.90,548.06 L114.50,548.01 L115.10,548.53 L115.70,547.24 L116.30,547.93 L116.90,547.34 L117.50,547.67 L118.10,547.09 L118.70,547.23 L119.30,547.68 L119.90,547.23 L120.50,548.13 L121.10,547.29 L121.70,548.32 L122.30,547.61 L122.90,547.33 L123.50,547.64 L124.10,547.86 L124.70,548.01 L125.30,547.82 L125.90,547.26 L126.50,547.31 L127.10,547.74 L127.70,548.11 L128.30,547.33 L128.90,548.16 L129.50,547.78 L130.10,547.84 L130.70,547.23 L131.30,547.42 L131.90,547.30 L132.50,547.36 L133.10,547.74 L133.70,547.22 L134.30,546.83 L134.90,547.42 L135.50,546.97 L136.10,547.11 L136.70,546.37 L137.30,546.34 L137.90,546.04 L138.50,546.11 L139.10,545.21 L139.70,546.11 L140.30,545.91 L140.90,545.88 L141.50,544.49 L142.10,544.56 L142.70,543.86 L143.30,542.08 L143.90,540.37 L144.50,539.27 L145.10,540.79 L145.70,536.71 L146.30,534.51 L146.90,533.59 L147.50,532.12 L148.10,528.85 L148.70,531.40 L149.30,531.79 L149.90,529.77 L150.50,530.42 L151.10,530.19 L151.70,531.08 L152.30,530.02 L152.90,529.28 L153.50,532.23 L154.10,531.68 L154.70,527.91 L155.30,528.06 L155.90,531.51 L156.50,533.77 L157.10,534.37 L157.70,536.98 L158.30,537.51 L158.90,537.03 L159.50,539.65 L160.10,539.80 L160.70,542.06 L161.30,542.58 L161.90,542.82 L162.50,545.59 L163.10,545.65 L163.70,545.18 L164.30,544.54 L164.90,543.32 L165.50,543.52 L166.10,545.36 L166.70,544.89 L167.30,545.63 L167.90,545.99 L168.50,544.50 L169.10,546.45 L169.70,545.92 L170.30,546.63 L170.90,546.00 L171.50,546.46 L172.10,546.74 L172.70,546.84 L173.30,546.27 L173.90,547.27 L174.50,547.17 L175.10,547.37 L175.70,546.21 L176.30,546.99 L176.90,547.35 L177.50,547.06 L178.10,545.69 L178.70,546.93 L179.30,546.48 L179.90,546.67 L180.50,546.90 L181.10,547.23 L181.70,547.06 L182.30,547.08 L182.90,547.95 L183.50,545.72 L184.10,546.50 L184.70,546.89 L185.30,547.04 L185.90,547.32 L186.50,546.52 L187.10,547.05 L187.70,546.75 L188.30,547.62 L188.90,546.81 L189.50,546.07 L190.10,547.13 L190.70,546.64 L191.30,547.00 L191.90,546.51 L192.50,546.54 L193.10,547.00 L193.70,547.29 L194.30,546.91 L194.90,547.03 L195.50,547.34 L196.10,546.85 L196.70,546.87 L197.30,547.48 L197.90,547.13 L198.50,545.77 L199.10,546.72 L199.70,547.05 L200.30,545.97 L200.90,547.31 L201.50,548.23 L202.10,547.98 L202.70,547.81 L203.30,547.02 L203.90,546.70 L204.50,548.11 L205.10,546.65 L205.70,547.70 L206.30,547.05 L206.90,546.96 L207.50,546.98 L208.10,547.18 L208.70,547.11 L209.30,547.70 L209.90,547.08 L210.50,546.78 L211.10,546.81 L211.70,546.07 L212.30,546.75 L212.90,546.91 L213.50,546.51 L214.10,547.14 L214.70,547.81 L215.30,548.23 L215.90,546.71 L216.50,547.03 L217.10,546.91 L217.70,547.43 L218.30,547.14 L218.90,546.49 L219.50,547.16 L220.10,547.79 L220.70,547.50 L221.30,546.73 L221.90,547.79 L222.50,548.44 L223.10,548.32 L223.70,547.92 L224.30,547.02 L224.90,547.33 L225.50,547.69 L226.10,547.92 L226.70,547.43 L227.30,547.46 L227.90,547.63" stroke="#000" stroke-width="2.4" fill="none" stroke-linejoin="round" stroke-linecap="round"/>
<path d="M125.50,568.47 L126.30,568.47M127.90,568.57 L128.70,568.57M130.70,568.64 L131.30,567.96 L131.90,568.16 L132.50,567.63 L133.10,567.03 L133.70,567.20 L134.30,566.87 L134.90,567.78 L135.50,566.98 L136.10,566.76 L136.70,566.23 L137.30,566.98 L137.90,566.20 L138.50,566.12 L139.10,567.08 L139.70,566.67 L140.30,565.57 L140.90,566.22 L141.50,565.95 L142.10,564.23 L142.70,564.29 L143.30,564.32 L143.90,563.74 L144.50,563.78 L145.10,563.42 L145.70,562.22 L146.30,560.32 L146.90,558.23 L147.50,558.19 L148.10,555.86 L148.70,554.35 L149.30,554.40 L149.90,551.28 L150.50,550.29 L151.10,552.48 L151.70,550.33 L152.30,552.52 L152.90,551.14 L153.50,551.87 L154.10,554.72 L154.70,558.09 L155.30,557.81 L155.90,560.40 L156.50,561.25 L157.10,561.12 L157.70,560.61 L158.30,562.56 L158.90,563.24 L159.50,565.02 L160.10,564.66 L160.70,565.74 L161.30,565.01 L161.90,566.13 L162.50,566.32 L163.10,566.79 L163.70,567.35 L164.30,567.17 L164.90,567.56 L165.50,568.08 L166.10,568.07 L166.70,568.11M167.50,568.81 L168.30,568.81M169.10,569.01 L169.70,568.86M179.30,569.10 L179.90,568.59M183.70,568.49 L184.50,568.49M199.90,568.76 L200.70,568.76M201.70,569.22 L202.50,569.22M222.10,568.62 L222.90,568.62" stroke="#000" stroke-width="2.4" fill="none" stroke-linejoin="round" stroke-linecap="round"/>
<path d="M125.90,589.21 L126.50,588.09 L127.10,588.27 L127.70,588.27 L128.30,588.63 L128.90,588.93 L129.50,588.87 L130.10,588.17 L130.70,587.90 L131.30,588.17 L131.90,586.89 L132.50,587.48 L133.10,587.02 L133.70,586.95 L134.30,587.83 L134.90,586.65 L135.50,586.82 L136.10,587.62 L136.70,586.43 L137.30,586.12 L137.90,586.05 L138.50,585.88 L139.10,587.19 L139.70,586.40 L140.30,586.19 L140.90,585.12 L141.50,584.38 L142.10,582.91 L142.70,582.47 L143.30,583.07 L143.90,580.89 L144.50,579.50 L145.10,579.92 L145.70,580.56 L146.30,578.58 L146.90,576.95 L147.50,577.46 L148.10,574.56 L148.70,574.77 L149.30,571.54 L149.90,571.56 L150.50,572.40 L151.10,573.89 L151.70,572.54 L152.30,574.28 L152.90,574.93 L153.50,574.25 L154.10,577.94 L154.70,580.10 L155.30,579.44 L155.90,579.99 L156.50,581.62 L157.10,583.72 L157.70,584.07 L158.30,586.34 L158.90,585.63 L159.50,586.50 L160.10,588.28 L160.70,588.17 L161.30,589.02 L161.90,589.10 L162.50,589.48M163.90,588.63 L164.70,588.63M165.70,589.57 L166.50,589.57M167.50,589.14 L168.30,589.14M180.10,589.29 L180.90,589.29" stroke="#000" stroke-width="2.4" fill="none" stroke-linejoin="round" stroke-linecap="round"/>
<path d="M122.90,609.26 L123.50,608.72M126.50,609.28 L127.10,608.31 L127.70,608.07 L128.30,608.27 L128.90,608.23 L129.50,608.32 L130.10,608.17 L130.70,608.10 L131.30,607.56 L131.90,607.77 L132.50,607.39 L133.10,606.79 L133.70,606.84 L134.30,607.44 L134.90,607.18 L135.50,606.59 L136.10,607.18 L136.70,607.70 L137.30,607.12 L137.90,606.10 L138.50,606.38 L139.10,606.33 L139.70,605.52 L140.30,606.25 L140.90,603.41 L141.50,604.29 L142.10,603.92 L142.70,601.42 L143.30,603.31 L143.90,602.20 L144.50,601.21 L145.10,601.30 L145.70,599.59 L146.30,597.50 L146.90,596.77 L147.50,595.85 L148.10,593.93 L148.70,592.12 L149.30,591.74 L149.90,595.59 L150.50,590.67 L151.10,591.11 L151.70,592.76 L152.30,595.60 L152.90,596.12 L153.50,597.23 L154.10,599.86 L154.70,598.70 L155.30,600.39 L155.90,602.37 L156.50,604.25 L157.10,603.65 L157.70,604.73 L158.30,605.05 L158.90,606.52 L159.50,605.54 L160.10,607.42 L160.70,606.77 L161.30,608.86 L161.90,608.19 L162.50,608.60M165.10,608.94 L165.90,608.94M168.10,608.76 L168.90,608.76M190.90,608.97 L191.70,608.97M196.90,609.32 L197.70,609.32M206.50,609.49 L207.30,609.49" stroke="#000" stroke-width="2.4" fill="none" stroke-linejoin="round" stroke-linecap="round"/>
<path d="M127.30,631.30 V631.00 H128.00 V631.00 H128.70 V631.00 H129.40 V631.00 H130.10 V629.60 H130.80 V631.00 H131.50 V631.00 H132.20 V629.33 H132.90 V631.00 H133.60 V631.00 H134.30 V629.67 H135.00 V629.27 H135.70 V628.72 H136.40 V630.17 H137.10 V630.69 H137.80 V630.17 H138.50 V628.05 H139.20 V629.57 H139.90 V629.16 H140.60 V625.95 H141.30 V628.61 H142.00 V628.51 H142.70 V626.81 H143.40 V625.94 H144.10 V623.86 H144.80 V626.51 H145.50 V627.08 H146.20 V622.63 H146.90 V619.49 H147.60 V623.92 H148.30 V619.84 H149.00 V616.05 H149.70 V614.91 H150.40 V614.19 H151.10 V614.18 H151.80 V615.82 H152.50 V617.13 H153.20 V611.07 H153.90 V619.47 H154.60 V613.42 H155.30 V622.44 H156.00 V612.00 H156.70 V625.88 H157.40 V618.81 H158.10 V625.84 H158.80 V625.24 H159.50 V626.29 H160.20 V628.30 H160.90 V624.81 H161.60 V628.75 H162.30 V631.00 H163.00 V631.00 H163.70 V631.00 H164.40 V631.30" stroke="#000" stroke-width="1.0" fill="none" stroke-linejoin="round"/>
<path d="M135.70,651.60 V651.30 H136.40 V651.30 H137.10 V650.73 H137.80 V651.30 H138.50 V650.36 H139.20 V650.12 H139.90 V649.48 H140.60 V648.86 H141.30 V647.00 H142.00 V649.98 H142.70 V642.70 H143.40 V645.76 H144.10 V647.47 H144.80 V646.06 H145.50 V644.80 H146.20 V647.60 H146.90 V640.52 H147.60 V642.56 H148.30 V639.33 H149.00 V639.20 H149.70 V635.97 H150.40 V633.76 H151.10 V638.71 H151.80 V631.19 H152.50 V640.32 H153.20 V639.09 H153.90 V639.17 H154.60 V638.96 H155.30 V641.41 H156.00 V643.23 H156.70 V643.75 H157.40 V645.47 H158.10 V648.96 H158.80 V648.22 H159.50 V651.30 H160.20 V651.60" stroke="#000" stroke-width="1.0" fill="none" stroke-linejoin="round"/>
<line x1="163.00" y1="529.10" x2="163.00" y2="651.90" stroke="#000" stroke-width="1.7" stroke-dasharray="1.4 1.7"/>
<line x1="104.80" y1="651.90" x2="104.80" y2="654.10" stroke="#444" stroke-width="0.8" />
<line x1="108.00" y1="651.90" x2="108.00" y2="654.10" stroke="#444" stroke-width="0.8" />
<line x1="111.20" y1="651.90" x2="111.20" y2="654.10" stroke="#444" stroke-width="0.8" />
<line x1="114.40" y1="651.90" x2="114.40" y2="654.10" stroke="#444" stroke-width="0.8" />
<line x1="117.60" y1="651.90" x2="117.60" y2="654.10" stroke="#444" stroke-width="0.8" />
<line x1="120.80" y1="651.90" x2="120.80" y2="654.10" stroke="#444" stroke-width="0.8" />
<line x1="124.00" y1="651.90" x2="124.00" y2="654.10" stroke="#444" stroke-width="0.8" />
<line x1="127.20" y1="651.90" x2="127.20" y2="654.10" stroke="#444" stroke-width="0.8" />
<line x1="130.40" y1="651.90" x2="130.40" y2="654.10" stroke="#444" stroke-width="0.8" />
<line x1="133.60" y1="651.90" x2="133.60" y2="654.10" stroke="#444" stroke-width="0.8" />
<line x1="136.80" y1="651.90" x2="136.80" y2="654.10" stroke="#444" stroke-width="0.8" />
<line x1="140.00" y1="651.90" x2="140.00" y2="654.10" stroke="#444" stroke-width="0.8" />
<line x1="143.20" y1="651.90" x2="143.20" y2="654.10" stroke="#444" stroke-width="0.8" />
<line x1="146.40" y1="651.90" x2="146.40" y2="654.10" stroke="#444" stroke-width="0.8" />
<line x1="149.60" y1="651.90" x2="149.60" y2="654.10" stroke="#444" stroke-width="0.8" />
<line x1="152.80" y1="651.90" x2="152.80" y2="654.10" stroke="#444" stroke-width="0.8" />
<line x1="156.00" y1="651.90" x2="156.00" y2="654.10" stroke="#444" stroke-width="0.8" />
<line x1="159.20" y1="651.90" x2="159.20" y2="654.10" stroke="#444" stroke-width="0.8" />
<line x1="162.40" y1="651.90" x2="162.40" y2="654.10" stroke="#444" stroke-width="0.8" />
<line x1="165.60" y1="651.90" x2="165.60" y2="654.10" stroke="#444" stroke-width="0.8" />
<line x1="168.80" y1="651.90" x2="168.80" y2="654.10" stroke="#444" stroke-width="0.8" />
<line x1="172.00" y1="651.90" x2="172.00" y2="654.10" stroke="#444" stroke-width="0.8" />
<line x1="175.20" y1="651.90" x2="175.20" y2="654.10" stroke="#444" stroke-width="0.8" />
<line x1="178.40" y1="651.90" x2="178.40" y2="654.10" stroke="#444" stroke-width="0.8" />
<line x1="181.60" y1="651.90" x2="181.60" y2="654.10" stroke="#444" stroke-width="0.8" />
<line x1="184.80" y1="651.90" x2="184.80" y2="654.10" stroke="#444" stroke-width="0.8" />
<line x1="188.00" y1="651.90" x2="188.00" y2="654.10" stroke="#444" stroke-width="0.8" />
<line x1="191.20" y1="651.90" x2="191.20" y2="654.10" stroke="#444" stroke-width="0.8" />
<line x1="194.40" y1="651.90" x2="194.40" y2="654.10" stroke="#444" stroke-width="0.8" />
<line x1="197.60" y1="651.90" x2="197.60" y2="654.10" stroke="#444" stroke-width="0.8" />
<line x1="200.80" y1="651.90" x2="200.80" y2="654.10" stroke="#444" stroke-width="0.8" />
<line x1="204.00" y1="651.90" x2="204.00" y2="654.10" stroke="#444" stroke-width="0.8" />
<line x1="207.20" y1="651.90" x2="207.20" y2="654.10" stroke="#444" stroke-width="0.8" />
<line x1="210.40" y1="651.90" x2="210.40" y2="654.10" stroke="#444" stroke-width="0.8" />
<line x1="213.60" y1="651.90" x2="213.60" y2="654.10" stroke="#444" stroke-width="0.8" />
<line x1="216.80" y1="651.90" x2="216.80" y2="654.10" stroke="#444" stroke-width="0.8" />
<line x1="220.00" y1="651.90" x2="220.00" y2="654.10" stroke="#444" stroke-width="0.8" />
<line x1="223.20" y1="651.90" x2="223.20" y2="654.10" stroke="#444" stroke-width="0.8" />
<line x1="226.40" y1="651.90" x2="226.40" y2="654.10" stroke="#444" stroke-width="0.8" />
<text x="113.80" y="666.90" font-size="7.0" fill="#3a3a3a" >0</text>
<text x="125.30" y="666.90" font-size="7.0" fill="#3a3a3a" >10</text>
<text x="132.70" y="662.70" font-size="5.8" fill="#3a3a3a" >2</text>
<text x="153.20" y="666.90" font-size="7.0" fill="#3a3a3a" >10</text>
<text x="160.60" y="662.70" font-size="5.8" fill="#3a3a3a" >3</text>
<text x="180.20" y="666.90" font-size="7.0" fill="#3a3a3a" >10</text>
<text x="187.60" y="662.70" font-size="5.8" fill="#3a3a3a" >4</text>
<text x="206.40" y="666.90" font-size="7.0" fill="#3a3a3a" >10</text>
<text x="213.80" y="662.70" font-size="5.8" fill="#3a3a3a" >5</text>
<text x="135.20" y="678.50" font-size="10.9" font-weight="bold" stroke="#000" stroke-width="0.25" textLength="60.60" lengthAdjust="spacingAndGlyphs" >DyLight 488</text>
<line x1="327.40" y1="31.10" x2="327.40" y2="183.40" stroke="#000" stroke-width="2.4" />
<line x1="322.80" y1="178.80" x2="327.40" y2="178.80" stroke="#000" stroke-width="2.4" />
<text x="319.90" y="182.50" font-size="10.8" font-weight="bold" stroke="#000" stroke-width="0.25" text-anchor="end" textLength="5.90" lengthAdjust="spacingAndGlyphs" >0</text>
<line x1="322.80" y1="142.20" x2="327.40" y2="142.20" stroke="#000" stroke-width="2.4" />
<text x="319.90" y="145.90" font-size="10.8" font-weight="bold" stroke="#000" stroke-width="0.25" text-anchor="end" textLength="5.90" lengthAdjust="spacingAndGlyphs" >5</text>
<line x1="322.80" y1="105.60" x2="327.40" y2="105.60" stroke="#000" stroke-width="2.4" />
<text x="319.90" y="109.30" font-size="10.8" font-weight="bold" stroke="#000" stroke-width="0.25" text-anchor="end" textLength="11.80" lengthAdjust="spacingAndGlyphs" >10</text>
<line x1="322.80" y1="69.00" x2="327.40" y2="69.00" stroke="#000" stroke-width="2.4" />
<text x="319.90" y="72.70" font-size="10.8" font-weight="bold" stroke="#000" stroke-width="0.25" text-anchor="end" textLength="11.80" lengthAdjust="spacingAndGlyphs" >15</text>
<line x1="322.80" y1="32.30" x2="327.40" y2="32.30" stroke="#000" stroke-width="2.4" />
<text x="319.90" y="36.00" font-size="10.8" font-weight="bold" stroke="#000" stroke-width="0.25" text-anchor="end" textLength="11.80" lengthAdjust="spacingAndGlyphs" >20</text>
<text x="0" y="0" font-size="10.6" font-weight="bold" text-anchor="middle" textLength="74.30" lengthAdjust="spacingAndGlyphs" transform="translate(298.3,103.00) rotate(-90)">% DL488+ pDC</text>
<line x1="322.80" y1="178.80" x2="517.00" y2="178.80" stroke="#000" stroke-width="2.4" />
<line x1="327.40" y1="178.80" x2="327.40" y2="183.40" stroke="#000" stroke-width="2.4" />
<line x1="358.40" y1="178.80" x2="358.40" y2="183.40" stroke="#000" stroke-width="2.4" />
<line x1="390.00" y1="178.80" x2="390.00" y2="183.40" stroke="#000" stroke-width="2.4" />
<line x1="421.80" y1="178.80" x2="421.80" y2="183.40" stroke="#000" stroke-width="2.4" />
<line x1="452.40" y1="178.80" x2="452.40" y2="183.40" stroke="#000" stroke-width="2.4" />
<line x1="484.30" y1="178.80" x2="484.30" y2="183.40" stroke="#000" stroke-width="2.4" />
<line x1="516.30" y1="178.80" x2="516.30" y2="183.40" stroke="#000" stroke-width="2.4" />
<rect x="331.50" y="176.40" width="23.00" height="5.00" fill="#000"/>
<rect x="488.80" y="176.40" width="22.50" height="5.00" fill="#000"/>
<text x="335.00" y="195.80" font-size="10.2" font-weight="bold" stroke="#000" stroke-width="0.25" textLength="16.70" lengthAdjust="spacingAndGlyphs" >HIV</text>
<text x="366.00" y="195.80" font-size="10.2" font-weight="bold" stroke="#000" stroke-width="0.25" textLength="17.50" lengthAdjust="spacingAndGlyphs" >HIV</text>
<text x="400.40" y="195.80" font-size="10.2" font-weight="bold" stroke="#000" stroke-width="0.25" textLength="11.60" lengthAdjust="spacingAndGlyphs" >20</text>
<text x="431.20" y="195.80" font-size="10.2" font-weight="bold" stroke="#000" stroke-width="0.25" textLength="11.50" lengthAdjust="spacingAndGlyphs" >80</text>
<text x="460.50" y="195.80" font-size="10.2" font-weight="bold" stroke="#000" stroke-width="0.25" textLength="16.80" lengthAdjust="spacingAndGlyphs" >120</text>
<text x="488.80" y="195.80" font-size="10.2" font-weight="bold" stroke="#000" stroke-width="0.25" textLength="24.20" lengthAdjust="spacingAndGlyphs" >CTRL</text>
<line x1="359.20" y1="183.30" x2="359.20" y2="217.50" stroke="#000" stroke-width="1.5" stroke-dasharray="1.3 1.7"/>
<line x1="484.30" y1="183.30" x2="484.30" y2="217.50" stroke="#000" stroke-width="1.5" stroke-dasharray="1.3 1.7"/>
<path d="M359.2,217.50 C359.2,221.50 361.5,224.50 366.5,224.50 L477.0,224.50 C482,224.50 484.3,221.50 484.3,217.50" stroke="#000" stroke-width="1.3" fill="none" />
<line x1="388.30" y1="203.80" x2="482.00" y2="203.80" stroke="#000" stroke-width="1.4" />
<text x="413.80" y="215.40" font-size="10.6" font-weight="bold" stroke="#000" stroke-width="0.25" textLength="41.60" lengthAdjust="spacingAndGlyphs" >βCD HIV</text>
<text x="381.50" y="239.60" font-size="10.6" font-weight="bold" stroke="#000" stroke-width="0.25" textLength="76.20" lengthAdjust="spacingAndGlyphs" >DL488-labelled</text>
<line x1="374.30" y1="74.90" x2="374.30" y2="124.60" stroke="#000" stroke-width="2.5" />
<rect x="368.20" y="73.15" width="12.20" height="3.50" fill="#000"/>
<rect x="368.20" y="122.85" width="12.20" height="3.50" fill="#000"/>
<rect x="362.90" y="110.05" width="22.80" height="5.30" fill="#000"/>
<line x1="405.50" y1="148.60" x2="405.50" y2="160.00" stroke="#000" stroke-width="2.5" />
<rect x="400.00" y="147.30" width="11.00" height="2.60" fill="#000"/>
<rect x="400.00" y="158.70" width="11.00" height="2.60" fill="#000"/>
<rect x="394.20" y="151.20" width="22.60" height="5.10" fill="#000"/>
<line x1="437.20" y1="159.40" x2="437.20" y2="169.20" stroke="#000" stroke-width="2.5" />
<rect x="431.70" y="158.10" width="11.00" height="2.60" fill="#000"/>
<rect x="431.70" y="167.90" width="11.00" height="2.60" fill="#000"/>
<rect x="425.90" y="161.00" width="22.60" height="5.30" fill="#000"/>
<line x1="468.80" y1="154.50" x2="468.80" y2="166.00" stroke="#000" stroke-width="2.5" />
<rect x="463.30" y="153.20" width="11.00" height="2.60" fill="#000"/>
<rect x="463.30" y="164.70" width="11.00" height="2.60" fill="#000"/>
<rect x="457.50" y="159.00" width="22.60" height="5.80" fill="#000"/>
<path d="M375.20,26.50 C375.20,23.19 377.71,20.50 380.80,20.50 L492.90,20.50 C497.32,20.50 500.90,23.19 500.90,26.50" stroke="#000" stroke-width="1.3" fill="none" />
<text x="377.80" y="19.40" font-size="10.1" textLength="45.90" lengthAdjust="spacingAndGlyphs" >P=0.0051*</text>
<path d="M375.20,39.70 C375.20,36.39 377.71,33.70 380.80,33.70 L461.80,33.70 C466.22,33.70 469.80,36.39 469.80,39.70" stroke="#000" stroke-width="1.3" fill="none" />
<text x="377.80" y="32.60" font-size="10.1" textLength="45.90" lengthAdjust="spacingAndGlyphs" >P=0.0051*</text>
<path d="M375.20,53.80 C375.20,50.49 377.71,47.80 380.80,47.80 L429.50,47.80 C433.92,47.80 437.50,50.49 437.50,53.80" stroke="#000" stroke-width="1.3" fill="none" />
<text x="377.80" y="46.70" font-size="10.1" textLength="45.90" lengthAdjust="spacingAndGlyphs" >P=0.0050*</text>
<path d="M375.20,70.60 C375.20,67.29 377.71,64.60 380.80,64.60 L399.00,64.60 C403.42,64.60 407.00,67.29 407.00,70.60" stroke="#000" stroke-width="1.3" fill="none" />
<text x="377.80" y="63.50" font-size="10.1" textLength="45.90" lengthAdjust="spacingAndGlyphs" >P=0.0051*</text>
<path d="M405.80,114.40 C405.80,111.09 408.31,108.40 411.40,108.40 L493.50,108.40 C497.92,108.40 501.50,111.09 501.50,114.40" stroke="#000" stroke-width="1.3" fill="none" />
<text x="453.50" y="107.40" font-size="10.1" textLength="45.70" lengthAdjust="spacingAndGlyphs" >P=0.0051*</text>
<path d="M438.00,129.50 C438.00,126.19 440.51,123.50 443.60,123.50 L493.50,123.50 C497.92,123.50 501.50,126.19 501.50,129.50" stroke="#000" stroke-width="1.3" fill="none" />
<text x="453.50" y="122.50" font-size="10.1" textLength="45.70" lengthAdjust="spacingAndGlyphs" >P=0.0077*</text>
<path d="M468.80,145.60 C468.80,142.29 471.31,139.60 474.40,139.60 L493.50,139.60 C497.92,139.60 501.50,142.29 501.50,145.60" stroke="#000" stroke-width="1.3" fill="none" />
<text x="453.50" y="138.00" font-size="10.1" textLength="45.70" lengthAdjust="spacingAndGlyphs" >P=0.0069*</text>
<line x1="327.40" y1="281.40" x2="327.40" y2="433.30" stroke="#000" stroke-width="2.4" />
<line x1="322.80" y1="428.70" x2="327.40" y2="428.70" stroke="#000" stroke-width="2.4" />
<text x="319.90" y="432.40" font-size="10.8" font-weight="bold" stroke="#000" stroke-width="0.25" text-anchor="end" textLength="5.90" lengthAdjust="spacingAndGlyphs" >0</text>
<line x1="322.80" y1="380.00" x2="327.40" y2="380.00" stroke="#000" stroke-width="2.4" />
<text x="319.90" y="383.70" font-size="10.8" font-weight="bold" stroke="#000" stroke-width="0.25" text-anchor="end" textLength="11.80" lengthAdjust="spacingAndGlyphs" >20</text>
<line x1="322.80" y1="331.40" x2="327.40" y2="331.40" stroke="#000" stroke-width="2.4" />
<text x="319.90" y="335.10" font-size="10.8" font-weight="bold" stroke="#000" stroke-width="0.25" text-anchor="end" textLength="11.80" lengthAdjust="spacingAndGlyphs" >40</text>
<line x1="322.80" y1="282.60" x2="327.40" y2="282.60" stroke="#000" stroke-width="2.4" />
<text x="319.90" y="286.30" font-size="10.8" font-weight="bold" stroke="#000" stroke-width="0.25" text-anchor="end" textLength="11.80" lengthAdjust="spacingAndGlyphs" >60</text>
<text x="0" y="0" font-size="10.6" font-weight="bold" text-anchor="middle" textLength="110.10" lengthAdjust="spacingAndGlyphs" transform="translate(298.3,353.70) rotate(-90)">% DL488+ monocytes</text>
<line x1="322.80" y1="428.70" x2="517.00" y2="428.70" stroke="#000" stroke-width="2.4" />
<line x1="327.40" y1="428.70" x2="327.40" y2="433.30" stroke="#000" stroke-width="2.4" />
<line x1="358.40" y1="428.70" x2="358.40" y2="433.30" stroke="#000" stroke-width="2.4" />
<line x1="390.00" y1="428.70" x2="390.00" y2="433.30" stroke="#000" stroke-width="2.4" />
<line x1="421.80" y1="428.70" x2="421.80" y2="433.30" stroke="#000" stroke-width="2.4" />
<line x1="452.40" y1="428.70" x2="452.40" y2="433.30" stroke="#000" stroke-width="2.4" />
<line x1="484.30" y1="428.70" x2="484.30" y2="433.30" stroke="#000" stroke-width="2.4" />
<line x1="516.30" y1="428.70" x2="516.30" y2="433.30" stroke="#000" stroke-width="2.4" />
<rect x="331.50" y="426.30" width="23.00" height="5.00" fill="#000"/>
<rect x="488.80" y="426.30" width="22.50" height="5.00" fill="#000"/>
<text x="335.00" y="445.80" font-size="10.2" font-weight="bold" stroke="#000" stroke-width="0.25" textLength="16.70" lengthAdjust="spacingAndGlyphs" >HIV</text>
<text x="366.00" y="445.80" font-size="10.2" font-weight="bold" stroke="#000" stroke-width="0.25" textLength="17.50" lengthAdjust="spacingAndGlyphs" >HIV</text>
<text x="400.40" y="445.80" font-size="10.2" font-weight="bold" stroke="#000" stroke-width="0.25" textLength="11.60" lengthAdjust="spacingAndGlyphs" >20</text>
<text x="431.20" y="445.80" font-size="10.2" font-weight="bold" stroke="#000" stroke-width="0.25" textLength="11.50" lengthAdjust="spacingAndGlyphs" >80</text>
<text x="460.50" y="445.80" font-size="10.2" font-weight="bold" stroke="#000" stroke-width="0.25" textLength="16.80" lengthAdjust="spacingAndGlyphs" >120</text>
<text x="488.80" y="445.80" font-size="10.2" font-weight="bold" stroke="#000" stroke-width="0.25" textLength="24.20" lengthAdjust="spacingAndGlyphs" >CTRL</text>
<line x1="359.20" y1="433.20" x2="359.20" y2="467.50" stroke="#000" stroke-width="1.5" stroke-dasharray="1.3 1.7"/>
<line x1="484.30" y1="433.20" x2="484.30" y2="467.50" stroke="#000" stroke-width="1.5" stroke-dasharray="1.3 1.7"/>
<path d="M359.2,467.50 C359.2,471.50 361.5,474.50 366.5,474.50 L477.0,474.50 C482,474.50 484.3,471.50 484.3,467.50" stroke="#000" stroke-width="1.3" fill="none" />
<line x1="388.30" y1="453.80" x2="482.00" y2="453.80" stroke="#000" stroke-width="1.4" />
<text x="413.80" y="465.40" font-size="10.6" font-weight="bold" stroke="#000" stroke-width="0.25" textLength="41.60" lengthAdjust="spacingAndGlyphs" >βCD HIV</text>
<text x="381.50" y="489.60" font-size="10.6" font-weight="bold" stroke="#000" stroke-width="0.25" textLength="76.20" lengthAdjust="spacingAndGlyphs" >DL488-labelled</text>
<line x1="374.30" y1="324.20" x2="374.30" y2="354.20" stroke="#000" stroke-width="2.5" />
<rect x="368.20" y="322.45" width="12.20" height="3.50" fill="#000"/>
<rect x="368.20" y="352.45" width="12.20" height="3.50" fill="#000"/>
<rect x="362.90" y="331.65" width="22.80" height="5.30" fill="#000"/>
<line x1="405.80" y1="376.50" x2="405.80" y2="399.10" stroke="#000" stroke-width="2.5" />
<rect x="400.30" y="375.20" width="11.00" height="2.60" fill="#000"/>
<rect x="400.30" y="397.80" width="11.00" height="2.60" fill="#000"/>
<rect x="394.50" y="383.80" width="22.60" height="5.40" fill="#000"/>
<line x1="437.10" y1="380.80" x2="437.10" y2="397.90" stroke="#000" stroke-width="2.5" />
<rect x="431.60" y="379.50" width="11.00" height="2.60" fill="#000"/>
<rect x="431.60" y="396.60" width="11.00" height="2.60" fill="#000"/>
<rect x="425.80" y="392.10" width="22.60" height="4.80" fill="#000"/>
<line x1="468.40" y1="383.10" x2="468.40" y2="395.30" stroke="#000" stroke-width="2.5" />
<rect x="462.90" y="381.80" width="11.00" height="2.60" fill="#000"/>
<rect x="462.90" y="394.00" width="11.00" height="2.60" fill="#000"/>
<rect x="457.10" y="388.30" width="22.60" height="6.30" fill="#000"/>
<path d="M375.20,276.00 C375.20,272.69 377.71,270.00 380.80,270.00 L492.90,270.00 C497.32,270.00 500.90,272.69 500.90,276.00" stroke="#000" stroke-width="1.3" fill="none" />
<text x="377.80" y="268.90" font-size="10.1" textLength="45.90" lengthAdjust="spacingAndGlyphs" >P=0.0051*</text>
<path d="M375.20,289.20 C375.20,285.89 377.71,283.20 380.80,283.20 L461.80,283.20 C466.22,283.20 469.80,285.89 469.80,289.20" stroke="#000" stroke-width="1.3" fill="none" />
<text x="377.80" y="282.10" font-size="10.1" textLength="45.90" lengthAdjust="spacingAndGlyphs" >P=0.0051*</text>
<path d="M375.20,302.80 C375.20,299.49 377.71,296.80 380.80,296.80 L429.50,296.80 C433.92,296.80 437.50,299.49 437.50,302.80" stroke="#000" stroke-width="1.3" fill="none" />
<text x="377.80" y="295.70" font-size="10.1" textLength="45.90" lengthAdjust="spacingAndGlyphs" >P=0.0051*</text>
<path d="M375.20,319.10 C375.20,315.79 377.71,313.10 380.80,313.10 L399.00,313.10 C403.42,313.10 407.00,315.79 407.00,319.10" stroke="#000" stroke-width="1.3" fill="none" />
<text x="377.80" y="312.00" font-size="10.1" textLength="45.90" lengthAdjust="spacingAndGlyphs" >P=0.0051*</text>
<path d="M405.80,348.10 C405.80,344.79 408.31,342.10 411.40,342.10 L493.50,342.10 C497.92,342.10 501.50,344.79 501.50,348.10" stroke="#000" stroke-width="1.3" fill="none" />
<text x="453.50" y="341.10" font-size="10.1" textLength="45.70" lengthAdjust="spacingAndGlyphs" >P=0.0051*</text>
<path d="M438.00,362.90 C438.00,359.59 440.51,356.90 443.60,356.90 L493.50,356.90 C497.92,356.90 501.50,359.59 501.50,362.90" stroke="#000" stroke-width="1.3" fill="none" />
<text x="453.50" y="355.90" font-size="10.1" textLength="45.70" lengthAdjust="spacingAndGlyphs" >P=0.0051*</text>
<path d="M468.80,377.70 C468.80,374.39 471.31,371.70 474.40,371.70 L493.50,371.70 C497.92,371.70 501.50,374.39 501.50,377.70" stroke="#000" stroke-width="1.3" fill="none" />
<text x="453.50" y="370.10" font-size="10.1" textLength="45.70" lengthAdjust="spacingAndGlyphs" >P=0.0069*</text>
<line x1="327.40" y1="527.00" x2="327.40" y2="681.30" stroke="#000" stroke-width="2.4" />
<line x1="322.80" y1="676.70" x2="327.40" y2="676.70" stroke="#000" stroke-width="2.4" />
<text x="319.90" y="680.40" font-size="10.8" font-weight="bold" stroke="#000" stroke-width="0.25" text-anchor="end" textLength="5.90" lengthAdjust="spacingAndGlyphs" >0</text>
<line x1="322.80" y1="639.50" x2="327.40" y2="639.50" stroke="#000" stroke-width="2.4" />
<text x="319.90" y="643.20" font-size="10.8" font-weight="bold" stroke="#000" stroke-width="0.25" text-anchor="end" textLength="11.80" lengthAdjust="spacingAndGlyphs" >10</text>
<line x1="322.80" y1="602.40" x2="327.40" y2="602.40" stroke="#000" stroke-width="2.4" />
<text x="319.90" y="606.10" font-size="10.8" font-weight="bold" stroke="#000" stroke-width="0.25" text-anchor="end" textLength="11.80" lengthAdjust="spacingAndGlyphs" >20</text>
<line x1="322.80" y1="565.30" x2="327.40" y2="565.30" stroke="#000" stroke-width="2.4" />
<text x="319.90" y="569.00" font-size="10.8" font-weight="bold" stroke="#000" stroke-width="0.25" text-anchor="end" textLength="11.80" lengthAdjust="spacingAndGlyphs" >30</text>
<line x1="322.80" y1="528.20" x2="327.40" y2="528.20" stroke="#000" stroke-width="2.4" />
<text x="319.90" y="531.90" font-size="10.8" font-weight="bold" stroke="#000" stroke-width="0.25" text-anchor="end" textLength="11.80" lengthAdjust="spacingAndGlyphs" >40</text>
<text x="0" y="0" font-size="10.6" font-weight="bold" text-anchor="middle" textLength="76.80" lengthAdjust="spacingAndGlyphs" transform="translate(298.3,601.80) rotate(-90)">% DL488+ mDC</text>
<line x1="322.80" y1="676.70" x2="517.00" y2="676.70" stroke="#000" stroke-width="2.4" />
<line x1="327.40" y1="676.70" x2="327.40" y2="681.30" stroke="#000" stroke-width="2.4" />
<line x1="358.40" y1="676.70" x2="358.40" y2="681.30" stroke="#000" stroke-width="2.4" />
<line x1="390.00" y1="676.70" x2="390.00" y2="681.30" stroke="#000" stroke-width="2.4" />
<line x1="421.80" y1="676.70" x2="421.80" y2="681.30" stroke="#000" stroke-width="2.4" />
<line x1="452.40" y1="676.70" x2="452.40" y2="681.30" stroke="#000" stroke-width="2.4" />
<line x1="484.30" y1="676.70" x2="484.30" y2="681.30" stroke="#000" stroke-width="2.4" />
<line x1="516.30" y1="676.70" x2="516.30" y2="681.30" stroke="#000" stroke-width="2.4" />
<rect x="331.50" y="674.30" width="23.00" height="5.00" fill="#000"/>
<rect x="488.80" y="674.30" width="22.50" height="5.00" fill="#000"/>
<text x="335.00" y="693.80" font-size="10.2" font-weight="bold" stroke="#000" stroke-width="0.25" textLength="16.70" lengthAdjust="spacingAndGlyphs" >HIV</text>
<text x="366.00" y="693.80" font-size="10.2" font-weight="bold" stroke="#000" stroke-width="0.25" textLength="17.50" lengthAdjust="spacingAndGlyphs" >HIV</text>
<text x="400.40" y="693.80" font-size="10.2" font-weight="bold" stroke="#000" stroke-width="0.25" textLength="11.60" lengthAdjust="spacingAndGlyphs" >20</text>
<text x="431.20" y="693.80" font-size="10.2" font-weight="bold" stroke="#000" stroke-width="0.25" textLength="11.50" lengthAdjust="spacingAndGlyphs" >80</text>
<text x="460.50" y="693.80" font-size="10.2" font-weight="bold" stroke="#000" stroke-width="0.25" textLength="16.80" lengthAdjust="spacingAndGlyphs" >120</text>
<text x="488.80" y="693.80" font-size="10.2" font-weight="bold" stroke="#000" stroke-width="0.25" textLength="24.20" lengthAdjust="spacingAndGlyphs" >CTRL</text>
<line x1="359.20" y1="681.20" x2="359.20" y2="715.50" stroke="#000" stroke-width="1.5" stroke-dasharray="1.3 1.7"/>
<line x1="484.30" y1="681.20" x2="484.30" y2="715.50" stroke="#000" stroke-width="1.5" stroke-dasharray="1.3 1.7"/>
<path d="M359.2,715.50 C359.2,719.50 361.5,722.50 366.5,722.50 L477.0,722.50 C482,722.50 484.3,719.50 484.3,715.50" stroke="#000" stroke-width="1.3" fill="none" />
<line x1="388.30" y1="701.80" x2="482.00" y2="701.80" stroke="#000" stroke-width="1.4" />
<text x="413.80" y="713.40" font-size="10.6" font-weight="bold" stroke="#000" stroke-width="0.25" textLength="41.60" lengthAdjust="spacingAndGlyphs" >βCD HIV</text>
<text x="381.50" y="737.60" font-size="10.6" font-weight="bold" stroke="#000" stroke-width="0.25" textLength="76.20" lengthAdjust="spacingAndGlyphs" >DL488-labelled</text>
<line x1="374.30" y1="569.40" x2="374.30" y2="628.50" stroke="#000" stroke-width="2.5" />
<rect x="368.20" y="567.65" width="12.20" height="3.50" fill="#000"/>
<rect x="368.20" y="626.75" width="12.20" height="3.50" fill="#000"/>
<rect x="362.90" y="610.35" width="22.80" height="5.30" fill="#000"/>
<line x1="406.20" y1="640.30" x2="406.20" y2="658.30" stroke="#000" stroke-width="2.5" />
<rect x="400.70" y="639.00" width="11.00" height="2.60" fill="#000"/>
<rect x="400.70" y="657.00" width="11.00" height="2.60" fill="#000"/>
<rect x="394.90" y="645.00" width="22.60" height="5.20" fill="#000"/>
<line x1="438.10" y1="652.70" x2="438.10" y2="665.80" stroke="#000" stroke-width="2.5" />
<rect x="432.60" y="651.40" width="11.00" height="2.60" fill="#000"/>
<rect x="432.60" y="664.50" width="11.00" height="2.60" fill="#000"/>
<rect x="426.80" y="657.90" width="22.60" height="4.80" fill="#000"/>
<line x1="469.10" y1="647.20" x2="469.10" y2="656.40" stroke="#000" stroke-width="2.5" />
<rect x="463.60" y="645.90" width="11.00" height="2.60" fill="#000"/>
<rect x="463.60" y="655.10" width="11.00" height="2.60" fill="#000"/>
<rect x="457.80" y="645.80" width="22.60" height="5.00" fill="#000"/>
<path d="M375.20,524.50 C375.20,521.19 377.71,518.50 380.80,518.50 L492.90,518.50 C497.32,518.50 500.90,521.19 500.90,524.50" stroke="#000" stroke-width="1.3" fill="none" />
<text x="377.80" y="517.40" font-size="10.1" textLength="45.90" lengthAdjust="spacingAndGlyphs" >P=0.0051*</text>
<path d="M375.20,537.70 C375.20,534.39 377.71,531.70 380.80,531.70 L461.80,531.70 C466.22,531.70 469.80,534.39 469.80,537.70" stroke="#000" stroke-width="1.3" fill="none" />
<text x="377.80" y="530.60" font-size="10.1" textLength="45.90" lengthAdjust="spacingAndGlyphs" >P=0.0069*</text>
<path d="M375.20,552.20 C375.20,548.89 377.71,546.20 380.80,546.20 L429.50,546.20 C433.92,546.20 437.50,548.89 437.50,552.20" stroke="#000" stroke-width="1.3" fill="none" />
<text x="377.80" y="545.10" font-size="10.1" textLength="45.90" lengthAdjust="spacingAndGlyphs" >P=0.0051*</text>
<path d="M375.20,568.50 C375.20,565.19 377.71,562.50 380.80,562.50 L399.00,562.50 C403.42,562.50 407.00,565.19 407.00,568.50" stroke="#000" stroke-width="1.3" fill="none" />
<text x="377.80" y="561.40" font-size="10.1" textLength="45.90" lengthAdjust="spacingAndGlyphs" >P=0.0051*</text>
<path d="M405.80,611.40 C405.80,608.09 408.31,605.40 411.40,605.40 L493.50,605.40 C497.92,605.40 501.50,608.09 501.50,611.40" stroke="#000" stroke-width="1.3" fill="none" />
<text x="453.50" y="604.40" font-size="10.1" textLength="45.70" lengthAdjust="spacingAndGlyphs" >P=0.0051*</text>
<path d="M438.00,626.50 C438.00,623.19 440.51,620.50 443.60,620.50 L493.50,620.50 C497.92,620.50 501.50,623.19 501.50,626.50" stroke="#000" stroke-width="1.3" fill="none" />
<text x="453.50" y="619.50" font-size="10.1" textLength="45.70" lengthAdjust="spacingAndGlyphs" >P=0.0051*</text>
<path d="M468.80,642.60 C468.80,639.29 471.31,636.60 474.40,636.60 L493.50,636.60 C497.92,636.60 501.50,639.29 501.50,642.60" stroke="#000" stroke-width="1.3" fill="none" />
<text x="453.50" y="635.00" font-size="10.1" textLength="45.70" lengthAdjust="spacingAndGlyphs" >P=0.0077*</text>
</svg>
</body></html>
